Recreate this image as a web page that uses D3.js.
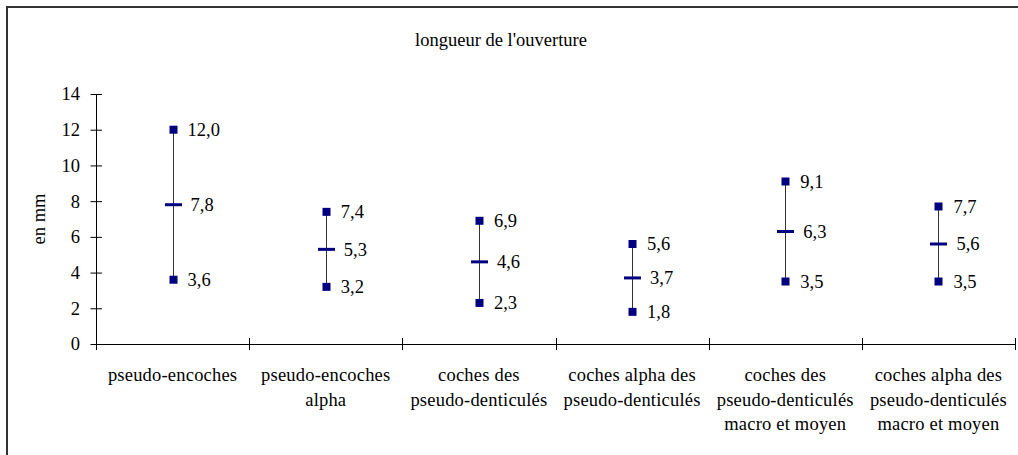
<!DOCTYPE html>
<html>
<head>
<meta charset="utf-8">
<script src="https://cdn.jsdelivr.net/npm/d3@7"></script>
<style>
  html, body { margin: 0; padding: 0; background: #fff; }
  svg { display: block; }
</style>
</head>
<body>
<svg id="chart" width="1018" height="455"></svg>
<script>
// Opening length per notch type (mm): maximum, mean, minimum
const categories = [
  ["pseudo-encoches"],
  ["pseudo-encoches", "alpha"],
  ["coches des", "pseudo-denticulés"],
  ["coches alpha des", "pseudo-denticulés"],
  ["coches des", "pseudo-denticulés", "macro et moyen"],
  ["coches alpha des", "pseudo-denticulés", "macro et moyen"]
];
const maxValues  = [12.0, 7.4, 6.9, 5.6, 9.1, 7.7];
const meanValues = [7.8, 5.3, 4.6, 3.7, 6.3, 5.6];
const minValues  = [3.6, 3.2, 2.3, 1.8, 3.5, 3.5];
const yTicks = [0, 2, 4, 6, 8, 10, 12, 14];

const FONT = "'Liberation Serif', 'Times New Roman', Times, serif";
const svg = d3.select("#chart");
const navy = "#000080";
const fmt = v => v.toFixed(1).replace(".", ",");

const plot = { left: 96, right: 1015, top: 94, bottom: 344 };

// Outer frame (left and top edges visible in the window)
svg.append("path")
  .attr("d", "M7,455 V7 H1018")
  .attr("fill", "none")
  .attr("stroke", "#333")
  .attr("stroke-width", 2);

svg.append("text")
  .attr("x", 501).attr("y", 46)
  .attr("text-anchor", "middle")
  .style("font-family", FONT).style("font-size", "18.5px")
  .text("longueur de l'ouverture");

const idx = d3.range(categories.length);
const x = d3.scaleBand().domain(idx).range([plot.left, plot.right]).padding(0);
const y = d3.scaleLinear().domain([0, 14]).range([plot.bottom, plot.top]);

// Y axis
const yAxis = svg.append("g")
  .attr("transform", `translate(${plot.left},0)`)
  .call(d3.axisLeft(y).tickValues(yTicks).tickSize(0).tickPadding(16));
yAxis.select(".domain").attr("stroke", "#000");
yAxis.selectAll(".tick text")
  .style("font-family", FONT).style("font-size", "18.5px").attr("fill", "#000");
yAxis.selectAll(".tick").append("line")
  .attr("x1", -5.5).attr("x2", 6).attr("stroke", "#000");

svg.append("text")
  .attr("transform", `translate(45,${(plot.top + plot.bottom) / 2}) rotate(-90)`)
  .attr("text-anchor", "middle")
  .style("font-family", FONT).style("font-size", "18.5px")
  .text("en mm");

// X axis with ticks at category boundaries
svg.append("line")
  .attr("x1", plot.left).attr("x2", plot.right)
  .attr("y1", plot.bottom + 0.5).attr("y2", plot.bottom + 0.5)
  .attr("stroke", "#000");
const bounds = idx.map(i => x(i)).concat([plot.right]);
svg.append("g").selectAll("line").data(bounds).join("line")
  .attr("x1", d => Math.round(d) + 0.5).attr("x2", d => Math.round(d) + 0.5)
  .attr("y1", plot.bottom - 6).attr("y2", plot.bottom + 6)
  .attr("stroke", "#000");

// Category labels
const cx = i => x(i) + x.bandwidth() / 2;
svg.append("g").selectAll("text").data(idx).join("text")
  .attr("x", i => cx(i))
  .attr("y", 381)
  .attr("text-anchor", "middle")
  .style("font-family", FONT).style("font-size", "18.5px")
  .style("letter-spacing", "0.2px")
  .each(function(i) {
    d3.select(this).selectAll("tspan").data(categories[i]).join("tspan")
      .attr("x", cx(i))
      .attr("dy", (d, k) => k === 0 ? 0 : 24.5)
      .text(d => d);
  });

// Range lines (min to max)
const g = svg.append("g");
g.selectAll("line.range").data(idx).join("line")
  .attr("class", "range")
  .attr("x1", i => Math.round(cx(i)) + 0.5).attr("x2", i => Math.round(cx(i)) + 0.5)
  .attr("y1", i => y(maxValues[i])).attr("y2", i => y(minValues[i]))
  .attr("stroke", "#333").attr("stroke-width", 1);

// Mean dashes
g.selectAll("line.mean").data(idx).join("line")
  .attr("class", "mean")
  .attr("x1", i => Math.round(cx(i)) - 8).attr("x2", i => Math.round(cx(i)) + 9)
  .attr("y1", i => y(meanValues[i])).attr("y2", i => y(meanValues[i]))
  .attr("stroke", navy).attr("stroke-width", 3);

// Max / min square markers
const pts = idx.flatMap(i => [
  { i, v: maxValues[i] },
  { i, v: minValues[i] }
]);
g.selectAll("rect.pt").data(pts).join("rect")
  .attr("class", "pt")
  .attr("x", d => Math.round(cx(d.i)) - 3.5).attr("y", d => y(d.v) - 4)
  .attr("width", 8).attr("height", 8)
  .attr("fill", navy);

// Value labels
const labels = idx.flatMap(i => [
  { i, v: maxValues[i], dx: 15 },
  { i, v: meanValues[i], dx: 18 },
  { i, v: minValues[i], dx: 15 }
]);
g.selectAll("text.val").data(labels).join("text")
  .attr("class", "val")
  .attr("x", d => cx(d.i) + d.dx)
  .attr("y", d => y(d.v))
  .attr("dy", "0.35em")
  .style("font-family", FONT).style("font-size", "18.5px")
  .text(d => fmt(d.v));
</script>
</body>
</html>
